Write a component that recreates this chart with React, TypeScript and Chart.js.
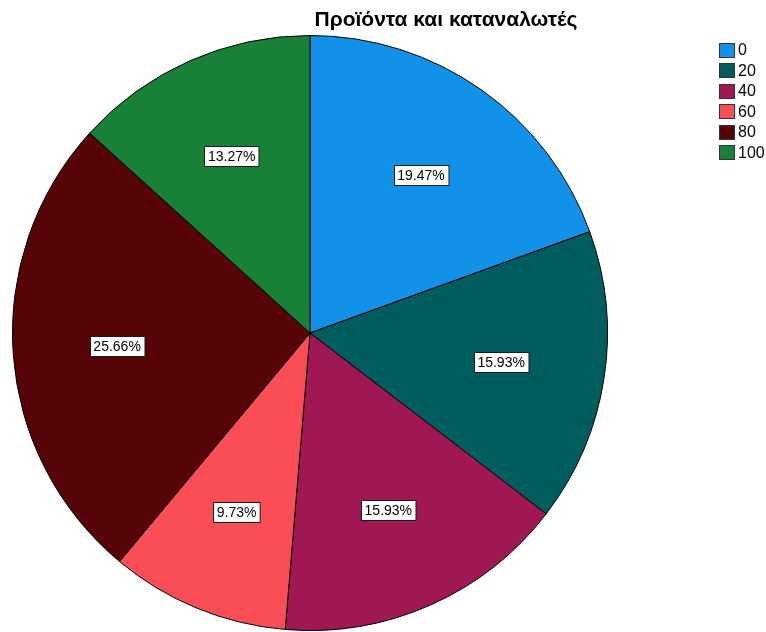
import React, { useEffect, useRef } from "react";
import { Chart, registerables } from "chart.js";

Chart.register(...registerables);

const TITLE = "Προϊόντα και καταναλωτές";
const CATEGORIES = ["0", "20", "40", "60", "80", "100"];
const COUNTS = [22, 18, 18, 11, 29, 15];
const COLORS = ["#1192e8", "#005d5d", "#9f1853", "#fa4d56", "#570408", "#198038"];

const FONT = '"Liberation Sans", Arial, sans-serif';

const overlayPlugin = {
  id: "overlay",
  afterDatasetsDraw(chart: any) {
    const ctx = chart.ctx as CanvasRenderingContext2D;
    const meta = chart.getDatasetMeta(0);
    const data = chart.data.datasets[0].data as number[];
    const total = data.reduce((a, b) => a + b, 0);
    ctx.save();
    ctx.font = `14px ${FONT}`;
    ctx.textAlign = "center";
    ctx.textBaseline = "middle";
    meta.data.forEach((arc: any, i: number) => {
      const p = arc.getProps(["x", "y", "startAngle", "endAngle", "outerRadius"], true);
      const mid = (p.startAngle + p.endAngle) / 2;
      const r = p.outerRadius * 0.65;
      const cx = p.x + Math.cos(mid) * r;
      const cy = p.y + Math.sin(mid) * r;
      const text = ((data[i] / total) * 100).toFixed(2) + "%";
      const w = ctx.measureText(text).width + 7;
      const h = 20;
      const bx = Math.round(cx - w / 2) + 0.5;
      const by = Math.round(cy - h / 2) + 0.5;
      ctx.fillStyle = "#ffffff";
      ctx.fillRect(bx, by, w, h);
      ctx.strokeStyle = "#1a1a1a";
      ctx.lineWidth = 1;
      ctx.strokeRect(bx, by, w, h);
      ctx.fillStyle = "#000000";
      ctx.fillText(text, cx, cy + 1);
    });
    ctx.restore();
  },
  afterDraw(chart: any) {
    const ctx = chart.ctx as CanvasRenderingContext2D;
    ctx.save();
    ctx.font = `bold 21px ${FONT}`;
    ctx.fillStyle = "#000000";
    ctx.textAlign = "center";
    ctx.textBaseline = "middle";
    ctx.fillText(TITLE, 446, 20);
    const labels = chart.data.labels as string[];
    const colors = chart.data.datasets[0].backgroundColor as string[];
    ctx.font = `16px ${FONT}`;
    ctx.textAlign = "left";
    labels.forEach((lab, i) => {
      const cy = 49.7 + i * 20.5;
      const x = 719.5;
      const y = Math.round(cy - 7) + 0.5;
      ctx.fillStyle = colors[i];
      ctx.fillRect(x, y, 15, 14);
      ctx.strokeStyle = "#333333";
      ctx.lineWidth = 1;
      ctx.strokeRect(x, y, 15, 14);
      ctx.fillStyle = "#000000";
      ctx.fillText(lab, 738, cy + 1);
    });
    ctx.restore();
  },
};

export default function App() {
  const ref = useRef<HTMLCanvasElement>(null);
  useEffect(() => {
    if (!ref.current) return;
    const chart = new Chart(ref.current, {
      type: "pie",
      data: {
        labels: CATEGORIES,
        datasets: [
          {
            data: COUNTS,
            backgroundColor: COLORS,
            borderColor: "#000000",
            borderWidth: 1,
          },
        ],
      },
      options: {
        responsive: false,
        animation: false,
        layout: { padding: { left: 12, top: 35, right: 158, bottom: 1 } },
        plugins: {
          legend: { display: false },
          title: { display: false },
          tooltip: { enabled: false },
        },
      },
      plugins: [overlayPlugin],
    });
    return () => chart.destroy();
  }, []);
  return (
    <div style={{ position: "absolute", left: 0, top: 0, width: 766, height: 632, background: "#fff" }}>
      <canvas ref={ref} width={766} height={632} style={{ display: "block" }} />
    </div>
  );
}
